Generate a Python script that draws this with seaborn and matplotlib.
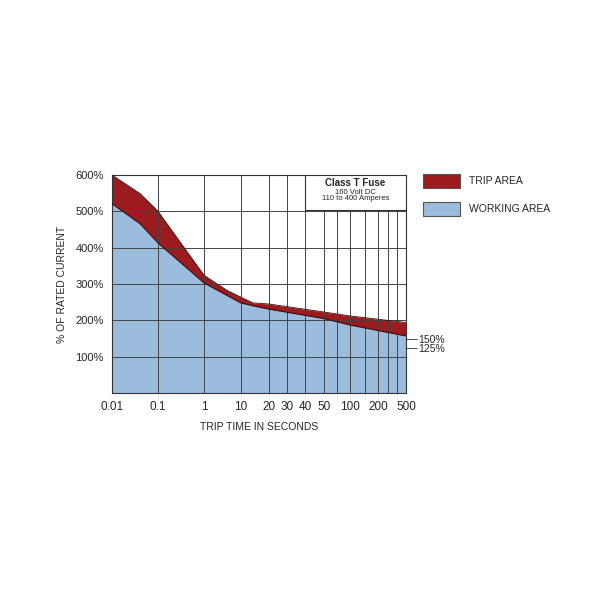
import matplotlib
matplotlib.use("Agg")
import matplotlib.pyplot as plt
import seaborn as sns
import numpy as np
from matplotlib.patches import Rectangle

sns.set_theme(style="white")
plt.rcParams['font.family'] = ['Liberation Sans', 'DejaVu Sans']

# x positions are on a custom (non-uniform) time axis
tick_labels = ["0.01", "0.1", "1", "10", "20", "30", "40", "50", "100", "200", "500"]
tick_pos = [0, 46, 92, 128.7, 156.7, 174.7, 193, 211.7, 238.3, 266.3, 294]
grid_pos = [0, 46, 92, 128.7, 156.7, 174.7, 193, 211.7, 225, 238.3, 253, 266.3, 276.3, 284.7, 294]

curve_x = [0, 28, 46, 92, 114.7, 128.7, 141, 156.7, 211.7, 238.3, 294]
trip_upper = [600, 549, 500, 324, 283, 264, 248, 245, 223, 212, 194]
working_upper = [521, 466, 413, 303, 269, 248, 240, 231, 205, 187, 157]

fig = plt.figure(figsize=(6, 6), dpi=100)
ax = fig.add_axes([112/600, 1-393/600, 294/600, 218/600])

ax.fill_between(curve_x, 0, working_upper, color="#9bbcdc", zorder=1, lw=0)
ax.fill_between(curve_x, working_upper, trip_upper, color="#9c1b1f", zorder=1, lw=0)
ax.plot(curve_x, working_upper, color="#3a1010", lw=0.8, zorder=3)
ax.plot(curve_x, trip_upper, color="#3a1010", lw=0.6, zorder=3)

for g in grid_pos:
    ax.axvline(g, color="#444", lw=0.7, zorder=2)
for v in [100, 200, 300, 400, 500]:
    ax.axhline(v, color="#444", lw=0.7, zorder=2)

ax.set_xlim(0, 294)
ax.set_ylim(0, 600)
ax.set_xticks(tick_pos)
ax.set_xticklabels(tick_labels, fontsize=8.5)
ax.set_yticks([100, 200, 300, 400, 500, 600])
ax.set_yticklabels(["100%", "200%", "300%", "400%", "500%", "600%"], fontsize=8)
ax.tick_params(length=0, pad=6)
for s in ax.spines.values():
    s.set_color("#333"); s.set_linewidth(0.8)
ax.set_xlabel("TRIP TIME IN SECONDS", fontsize=7.5, labelpad=6)
ax.set_ylabel("% OF RATED CURRENT", fontsize=7.5, labelpad=6)

# info box
ax.add_patch(Rectangle((193, 505), 101, 95, facecolor="white", edgecolor="#333", lw=0.8, zorder=4))
ax.text(243.5, 578, "Class T Fuse", ha="center", va="center", fontsize=7, fontweight="bold", zorder=5)
ax.text(243.5, 553, "160 Volt DC", ha="center", va="center", fontsize=5.5, zorder=5)
ax.text(243.5, 535, "110 to 400 Amperes", ha="center", va="center", fontsize=5.5, zorder=5)

# right side markers
for val, ty in [(150, 147), (125, 121)]:
    ax.plot([294, 305], [val, val], color="#333", lw=0.6, clip_on=False)
    ax.text(306, ty, f"{val}%", fontsize=7.5, va="center", ha="left")

# legend
fig.patches.append(Rectangle((423/600, 1-188/600), 37/600, 14/600, transform=fig.transFigure,
                             facecolor="#9c1b1f", edgecolor="#555", lw=0.8))
fig.patches.append(Rectangle((423/600, 1-216/600), 37/600, 14/600, transform=fig.transFigure,
                             facecolor="#9bbcdc", edgecolor="#555", lw=0.8))
fig.text(469/600, 1-181/600, "TRIP AREA", fontsize=7.5, va="center")
fig.text(469/600, 1-209/600, "WORKING AREA", fontsize=7.5, va="center")

fig.savefig("out.png", dpi=100, facecolor="white")
